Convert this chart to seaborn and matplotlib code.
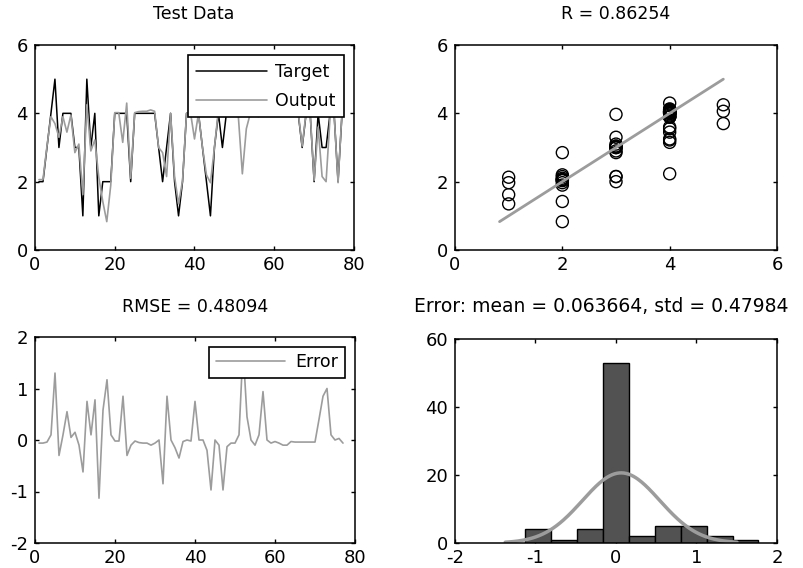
import numpy as np
import pandas as pd
import matplotlib
matplotlib.use("Agg")
import matplotlib.pyplot as plt
import seaborn as sns

# ---------------- data ----------------
sample_index = list(range(1, 78))
target = [2, 2, 3, 4, 5, 3, 4, 4, 4, 3,
          3, 1, 5, 3, 4, 1, 2, 2, 2, 4,
          4, 4, 4, 2, 4, 4, 4, 4, 4, 4,
          3, 2, 3, 4, 2, 1, 2, 4, 4, 4,
          4, 3, 2, 1, 3, 4, 3, 4, 4, 4,
          4, 4, 4, 4, 4, 4, 5, 4, 4, 4,
          4, 4, 4, 4, 4, 4, 3, 4, 4, 2,
          4, 3, 3, 4, 4, 2, 4]
output = [2.06, 2.06, 3.04, 3.90, 3.70, 3.30, 3.90, 3.45, 3.95, 2.85,
          3.10, 1.62, 4.25, 2.90, 3.22, 2.13, 1.42, 0.83, 1.90, 4.02,
          4.02, 3.15, 4.30, 2.10, 4.02, 4.05, 4.06, 4.06, 4.10, 4.06,
          3.00, 2.85, 2.15, 4.00, 2.15, 1.35, 2.03, 4.00, 4.02, 3.25,
          4.00, 3.00, 2.20, 1.97, 3.00, 4.10, 3.97, 4.13, 4.06, 4.06,
          3.90, 2.23, 3.55, 4.00, 4.10, 3.90, 4.06, 4.00, 4.06, 4.03,
          4.06, 4.10, 4.10, 4.03, 4.04, 4.04, 3.04, 4.04, 4.04, 2.04,
          3.60, 2.15, 2.00, 3.90, 4.00, 1.97, 4.06]
r_value = "0.86254"
rmse_value = "0.48094"
err_mean = 0.063664
err_std = 0.47984
n_bins = 9

t_arr = np.array(target, dtype=float)
o_arr = np.array(output, dtype=float)
error = t_arr - o_arr

# ---------------- style ----------------
sns.set_style("ticks")
plt.rcParams["font.family"] = ["DejaVu Sans"]
plt.rcParams.update({
    "font.size": 13,
    "text.color": "black",
    "axes.labelcolor": "black",
    "axes.unicode_minus": False,
    "xtick.direction": "in",
    "ytick.direction": "in",
    "xtick.top": True,
    "ytick.right": True,
    "xtick.major.size": 3,
    "ytick.major.size": 3,
    "xtick.major.width": 1,
    "ytick.major.width": 1,
    "xtick.color": "black",
    "ytick.color": "black",
    "xtick.labelcolor": "black",
    "ytick.labelcolor": "black",
    "axes.edgecolor": "black",
    "axes.linewidth": 1.1,
    "xtick.labelsize": 13,
    "ytick.labelsize": 13,
})

W, H = 804, 568
fig = plt.figure(figsize=(W / 100, H / 100), dpi=100)
fig.patch.set_facecolor("white")


def add_ax(l, t, r, b):
    return fig.add_axes([l / W, 1 - b / H, (r - l) / W, (b - t) / H])


ax1 = add_ax(35, 45, 354, 250)
ax2 = add_ax(455, 45, 777, 250)
ax3 = add_ax(35, 337, 355, 543)
ax4 = add_ax(455, 339, 777, 543)

GREY = "#9c9c9c"

# ---------------- Test Data ----------------
sns.lineplot(x=sample_index, y=target, color="black", lw=1.1, ax=ax1, label="Target")
sns.lineplot(x=sample_index, y=output, color=GREY, lw=1.2, ax=ax1, label="Output")
ax1.set_xlim(0, 80)
ax1.set_ylim(0, 6)
ax1.set_xticks([0, 20, 40, 60, 80])
ax1.set_yticks([0, 2, 4, 6])
leg1 = ax1.legend(loc="upper right", handlelength=4.1, handletextpad=0.5,
                  borderpad=0.45, labelspacing=0.6, fancybox=False,
                  edgecolor="black", framealpha=1, borderaxespad=0.6,
                  fontsize=12.5)
leg1.get_frame().set_linewidth(1.2)

# ---------------- Regression ----------------
sns.scatterplot(x=target, y=output, ax=ax2, s=75, marker="o",
                facecolor="none", edgecolor="black", linewidth=1.0)
lo = min(t_arr.min(), o_arr.min())
hi = max(t_arr.max(), o_arr.max())
sns.lineplot(x=[lo, hi], y=[lo, hi], color=GREY, lw=2, ax=ax2)
ax2.set_xlim(0, 6)
ax2.set_ylim(0, 6)
ax2.set_xticks([0, 2, 4, 6])
ax2.set_yticks([0, 2, 4, 6])

# ---------------- Error series ----------------
sns.lineplot(x=sample_index, y=error, color=GREY, lw=1.2, ax=ax3, label="Error")
ax3.set_xlim(0, 80)
ax3.set_ylim(-2, 2)
ax3.set_xticks([0, 20, 40, 60, 80])
ax3.set_yticks([-2, -1, 0, 1, 2])
leg3 = ax3.legend(loc="upper right", handlelength=4.0, handletextpad=0.6,
                  borderpad=0.4, fancybox=False, edgecolor="black",
                  framealpha=1, borderaxespad=0.55, fontsize=12.5)
leg3.get_frame().set_linewidth(1.2)

# ---------------- Histogram ----------------
edges = np.linspace(error.min(), error.max(), n_bins + 1)
sns.histplot(x=error, bins=edges, color="#525252", edgecolor="black",
             alpha=1, linewidth=1, ax=ax4)
binw = edges[1] - edges[0]
xs = np.linspace(err_mean - 3 * err_std, err_mean + 3 * err_std, 200)
ys = len(error) * binw * np.exp(-0.5 * ((xs - err_mean) / err_std) ** 2) / (err_std * np.sqrt(2 * np.pi))
sns.lineplot(x=xs, y=ys, color=GREY, lw=2.5, ax=ax4)
ax4.set_xlim(-2, 2)
ax4.set_ylim(0, 60)
ax4.set_xticks([-2, -1, 0, 1, 2])
ax4.set_yticks([0, 20, 40, 60])

for ax in (ax1, ax2, ax3, ax4):
    ax.set_xlabel("")
    ax.set_ylabel("")
    ax.tick_params(axis="y", pad=5)
    ax.tick_params(axis="x", pad=4)
    for sp in ax.spines.values():
        sp.set_visible(True)
        sp.set_color("black")

# ---------------- titles ----------------
fig.text(194 / W, 1 - 14 / H, "Test Data", ha="center", va="center", fontsize=12.5)
fig.text(616 / W, 1 - 14 / H, "R = " + r_value, ha="center", va="center", fontsize=12.5)
fig.text(195 / W, 1 - 307 / H, "RMSE = " + rmse_value, ha="center", va="center", fontsize=12.5)
fig.text(601 / W, 1 - 307 / H,
         "Error: mean = " + str(err_mean) + ", std = " + str(err_std),
         ha="center", va="center", fontsize=13.5)

fig.savefig("out.png", dpi=100, facecolor="white")
